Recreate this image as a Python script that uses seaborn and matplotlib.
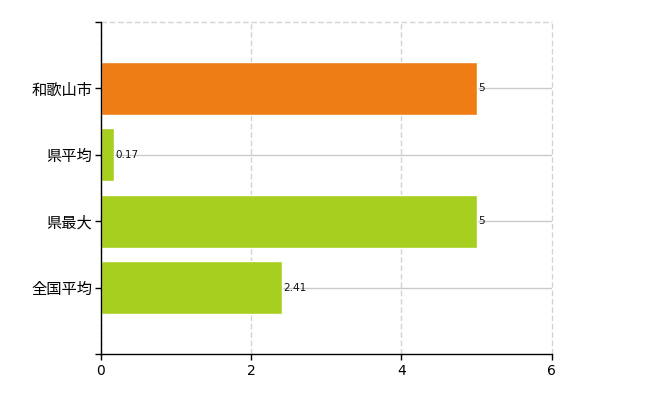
import matplotlib
matplotlib.use("Agg")
import matplotlib.pyplot as plt
import seaborn as sns

sns.set_style("white")
plt.rcParams['font.family'] = ['Noto Sans CJK JP', 'DejaVu Sans']

# data
categories = ["和歌山市", "県平均", "県最大", "全国平均"]
values = [5, 0.17, 5, 2.41]
value_labels = ["5", "0.17", "5", "2.41"]
bar_colors = ["#ee7d16", "#a7cf1f", "#a7cf1f", "#a7cf1f"]
x_ticks = [0, 2, 4, 6]

fig = plt.figure(figsize=(6.5, 4), dpi=100)
ax = fig.add_axes([0.155, 0.115, 0.694, 0.83])

ax = sns.barplot(x=values, y=categories, hue=categories, palette=bar_colors,
                 legend=False, orient="h", width=0.8, saturation=1, ax=ax)

ax.set_xlim(0, 6)
ax.set_ylim(4, -1)
ax.set_xticks(x_ticks)
ax.set_xticklabels([str(t) for t in x_ticks], fontsize=10,
                   family=["DejaVu Sans"])
ax.set_yticks(range(len(categories)))
ax.set_yticklabels(categories, fontsize=11)
ax.set_yticks([-1, 4], minor=True)
ax.tick_params(axis="both", which="both", direction="out", length=4, width=1,
               color="black", labelcolor="black", left=True, bottom=True)
ax.tick_params(axis="y", pad=2)

# grid: dashed verticals, solid horizontals
ax.set_axisbelow(True)
ax.grid(axis="x", color="#d0d4d8", linestyle=(0, (4, 2)), linewidth=1)
ax.grid(axis="y", color="#c8ccc8", linestyle="-", linewidth=1)
for gl in ax.get_xgridlines():
    gl.set_clip_on(False)
ax.axhline(-1, color="#d4d4d4", linestyle=(0, (4, 2)), linewidth=1, zorder=0,
           clip_on=False)

for s in ["top", "right"]:
    ax.spines[s].set_visible(False)
for s in ["left", "bottom"]:
    ax.spines[s].set_color("black")
    ax.spines[s].set_linewidth(1)

for i, (v, lab) in enumerate(zip(values, value_labels)):
    ax.text(v + 0.02, i, lab, va="center", ha="left", fontsize=7.5,
            color="#111111", family=["DejaVu Sans"])

ax.set_xlabel("")
ax.set_ylabel("")
fig.savefig("out.png", dpi=100)
